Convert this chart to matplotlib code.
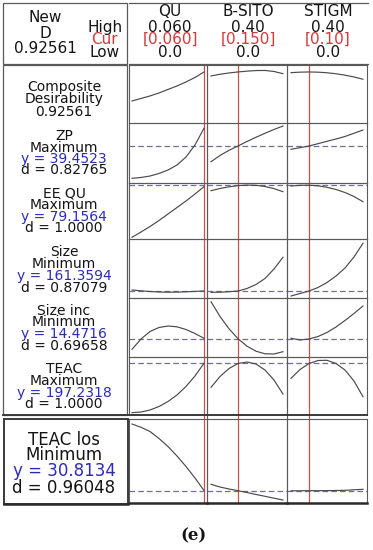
import matplotlib
matplotlib.use("Agg")
import matplotlib.pyplot as plt
from matplotlib.transforms import blended_transform_factory
from matplotlib.lines import Line2D
from matplotlib.patches import Rectangle

# ---------------- data ----------------
factors = ["QU", "B-SITO", "STIGM"]
high_labels = ["0.060", "0.40", "0.40"]
cur_labels = ["[0.060]", "[0.150]", "[0.10]"]
low_labels = ["0.0", "0.0", "0.0"]
low_vals = [0.0, 0.0, 0.0]
high_vals = [0.060, 0.40, 0.40]
cur_vals = [0.060, 0.150, 0.10]

composite_label = "0.92561"
responses = ["ZP", "EE QU", "Size", "Size inc", "TEAC", "TEAC los"]
goals = ["Maximum", "Maximum", "Minimum", "Minimum", "Maximum", "Minimum"]
y_labels = ["39.4523", "79.1564", "161.3594", "14.4716", "197.2318", "30.8134"]
y_cur = [39.4523, 79.1564, 161.3594, 14.4716, 197.2318, 30.8134]
d_labels = ["0.82765", "1.0000", "0.87079", "0.69658", "1.0000", "0.96048"]

qu_levels = [0.0, 0.0075, 0.015, 0.0225, 0.03, 0.0375, 0.045, 0.0525, 0.06]
sito_levels = [0.0, 0.05, 0.10, 0.15, 0.20, 0.25, 0.30, 0.35, 0.40]
stigm_levels = [0.0, 0.05, 0.10, 0.15, 0.20, 0.25, 0.30, 0.35, 0.40]

composite_qu = [0.636, 0.661, 0.686, 0.716, 0.751, 0.786, 0.826, 0.871, 0.926]
composite_sito = [0.886, 0.903, 0.916, 0.926, 0.934, 0.940, 0.941, 0.931, 0.909]
composite_stigm = [0.919, 0.924, 0.926, 0.924, 0.918, 0.908, 0.894, 0.876, 0.853]

zp_qu = [31.38, 31.58, 31.95, 32.58, 33.45, 34.70, 36.70, 39.70, 43.88]
zp_sito = [35.53, 37.08, 38.38, 39.45, 40.58, 41.63, 42.63, 43.58, 44.45]
zp_stigm = [38.63, 39.03, 39.45, 40.03, 40.63, 41.20, 41.83, 42.63, 43.45]

ee_qu = [53.01, 55.66, 58.41, 61.41, 64.66, 67.91, 71.16, 74.66, 78.31]
ee_sito = [76.31, 77.41, 78.26, 78.86, 79.11, 79.01, 78.41, 77.36, 75.81]
ee_stigm = [78.66, 79.01, 79.06, 78.76, 78.01, 76.91, 75.41, 73.41, 70.81]

size_qu = [163.36, 161.76, 160.36, 159.36, 158.96, 159.16, 159.76, 160.56, 161.36]
size_sito = [158.76, 158.96, 159.96, 161.36, 166.36, 174.36, 186.36, 205.36, 228.76]
size_stigm = [151.36, 156.36, 161.36, 168.36, 178.36, 191.36, 207.36, 229.36, 256.76]

sizeinc_qu = [12.35, 14.41, 15.91, 16.71, 17.01, 16.85, 16.31, 15.51, 14.55]
sizeinc_sito = [21.87, 18.91, 16.45, 14.47, 12.97, 11.97, 11.45, 11.41, 11.87]
sizeinc_stigm = [14.55, 14.21, 14.41, 14.91, 15.71, 16.81, 18.11, 19.51, 21.01]

teac_qu = [147.23, 147.93, 149.93, 153.43, 158.43, 164.93, 173.43, 183.93, 196.63]
teac_sito = [172.63, 183.43, 191.43, 196.43, 197.93, 195.93, 189.93, 179.93, 165.93]
teac_stigm = [181.63, 190.43, 196.43, 199.43, 199.63, 196.43, 189.93, 178.93, 163.23]

teaclos_qu = [64.16, 62.51, 60.41, 56.91, 52.91, 48.16, 42.91, 37.16, 30.91]
teaclos_sito = [34.01, 32.66, 31.66, 30.81, 29.91, 28.91, 28.01, 27.06, 26.16]
teaclos_stigm = [30.76, 30.76, 30.81, 30.81, 30.86, 30.91, 31.01, 31.26, 31.51]

levels = [qu_levels, sito_levels, stigm_levels]
curves = [
    [composite_qu, composite_sito, composite_stigm],
    [zp_qu, zp_sito, zp_stigm],
    [ee_qu, ee_sito, ee_stigm],
    [size_qu, size_sito, size_stigm],
    [sizeinc_qu, sizeinc_sito, sizeinc_stigm],
    [teac_qu, teac_sito, teac_stigm],
    [teaclos_qu, teaclos_sito, teaclos_stigm],
]

# ---------------- layout / style ----------------
W, H = 373, 550
row_ylims = [(0.4156, 0.9956), (30.20, 45.20), (52.16, 80.16), (147.36, 265.36),
             (10.81, 22.61), (144.93, 202.93), (24.66, 66.66)]
col_edges = [129, 207, 287, 367]
col_margin = [0.042, 0.056, 0.056]
row_edges = [(65, 123), (123, 183), (183, 239), (239, 298), (298, 357), (357, 415), (419, 503)]

GRID = "#5a5a5a"
RED = "#c4524e"
CURVE = "#4a4a4a"
DASH = "#6e6e9e"
BLUE = "#2b2bb5"
CURRED = "#d43a3a"
TXT = "#141414"

plt.rcParams["font.family"] = ["DejaVu Sans"]

fig = plt.figure(figsize=(W / 100, H / 100), dpi=100)
bg = fig.add_axes([0, 0, 1, 1])
bg.set_xlim(0, W)
bg.set_ylim(H, 0)
bg.axis("off")


def fx(px):
    return px / W


def fy(py):
    return 1 - py / H


axes = []
for r, (top, bot) in enumerate(row_edges):
    row_axes = []
    for c in range(3):
        l, rr = col_edges[c], col_edges[c + 1]
        ax = fig.add_axes([fx(l), fy(bot), fx(rr) - fx(l), fy(top) - fy(bot)])
        ax.set_facecolor("none")
        span = high_vals[c] - low_vals[c]
        ax.set_xlim(low_vals[c] - col_margin[c] * span, high_vals[c] + col_margin[c] * span)
        ax.set_ylim(*row_ylims[r])
        ax.set_xticks([])
        ax.set_yticks([])
        for s in ax.spines.values():
            s.set_color(GRID)
            s.set_linewidth(0.8)
        if r == 5:
            ax.spines["bottom"].set_linewidth(1.4)
            ax.spines["bottom"].set_color("#3a3a3a")
        if r == 6:
            ax.spines["bottom"].set_linewidth(1.8)
            ax.spines["bottom"].set_color("#2a2a2a")
        if r > 0:
            ax.axhline(y_cur[r - 1], color=DASH, lw=0.9, dashes=(4.5, 2.5), zorder=1)
        ax.plot(levels[c], curves[r][c], color=CURVE, lw=0.85, zorder=3)
        row_axes.append(ax)
    axes.append(row_axes)

# red vertical lines at current settings, spanning all rows
for c in range(3):
    trans = blended_transform_factory(axes[0][c].transData, bg.transData)
    bg.add_line(Line2D([cur_vals[c], cur_vals[c]], [65, 503], transform=trans,
                       color=RED, lw=0.9, zorder=4))

# column separators through the gap
for xe in col_edges[1:3]:
    bg.plot([xe, xe], [415, 419], color=GRID, lw=0.8)

# frames
bg.add_patch(Rectangle((2.5, 3), 124.5, 60.5, fill=False, ec=GRID, lw=0.9))
bg.plot([129, 368], [3, 3], color=GRID, lw=0.9)
bg.plot([129, 368], [64, 64], color=GRID, lw=0.9)
bg.add_patch(Rectangle((3, 64.5), 124, 350.5, fill=False, ec=GRID, lw=0.9))
bg.plot([3, 127], [415, 415], color="#3a3a3a", lw=1.4)
bg.add_patch(Rectangle((4, 419), 124, 85, fill=False, ec="#3a3a3a", lw=1.4))
bg.plot([4, 128], [504, 504], color="#2a2a2a", lw=1.8)

# header text
HF = 11
bg.text(45, 22.5, "New", ha="center", va="baseline", fontsize=HF, color=TXT)
bg.text(45, 37.7, "D", ha="center", va="baseline", fontsize=HF, color=TXT)
bg.text(45, 53, composite_label, ha="center", va="baseline", fontsize=HF, color=TXT)
bg.text(105, 31.7, "High", ha="center", va="baseline", fontsize=HF, color=TXT)
bg.text(104, 44.5, "Cur", ha="center", va="baseline", fontsize=HF, color=CURRED)
bg.text(105, 57, "Low", ha="center", va="baseline", fontsize=HF, color=TXT)
for c in range(3):
    cx = (col_edges[c] + col_edges[c + 1]) / 2 + (2 if c == 0 else 1)
    bg.text(cx, 16.5, factors[c], ha="center", va="baseline", fontsize=HF, color=TXT)
    bg.text(cx, 31.7, high_labels[c], ha="center", va="baseline", fontsize=HF, color=TXT)
    bg.text(cx, 44, cur_labels[c], ha="center", va="baseline", fontsize=HF, color=CURRED)
    bg.text(cx, 57, low_labels[c], ha="center", va="baseline", fontsize=HF, color=TXT)

# left labels
LF = 10
LX = 64
bg.text(LX, 91.5, "Composite", ha="center", va="baseline", fontsize=LF, color=TXT)
bg.text(LX, 103.5, "Desirability", ha="center", va="baseline", fontsize=LF, color=TXT)
bg.text(LX, 115.5, composite_label, ha="center", va="baseline", fontsize=LF, color=TXT)

label_baselines = [
    [140, 151.5, 163, 174],
    [197.5, 209, 221, 232.5],
    [256, 268, 280, 291.5],
    [315, 326.5, 338, 349.5],
    [373, 385, 397, 408.5],
    [445, 460, 476.5, 493],
]
for i in range(6):
    b = label_baselines[i]
    fs = 12 if i == 5 else LF
    bg.text(LX, b[0], responses[i], ha="center", va="baseline", fontsize=fs, color=TXT)
    bg.text(LX, b[1], goals[i], ha="center", va="baseline", fontsize=fs, color=TXT)
    bg.text(LX, b[2], "y = " + y_labels[i], ha="center", va="baseline", fontsize=fs, color=BLUE)
    bg.text(LX, b[3], "d = " + d_labels[i], ha="center", va="baseline", fontsize=fs, color=TXT)

bg.text(194, 536, "(e)", ha="center", va="center", fontsize=12, color=TXT,
        family="DejaVu Serif", fontweight="bold")

fig.savefig("out.png", dpi=100)
